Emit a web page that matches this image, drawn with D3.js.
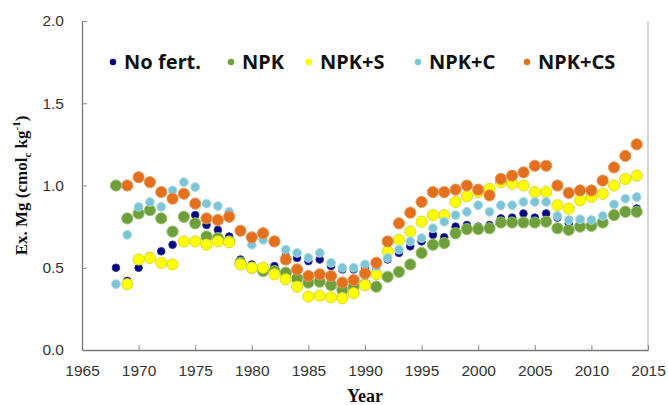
<!DOCTYPE html>
<html lang="en">
<head>
    <meta charset="UTF-8">
    <title>Ex. Mg by year</title>
    <script src="https://d3js.org/d3.v7.min.js"></script>
    <style>
        body { margin: 0; background: #fff; }
        svg { display: block; }
    </style>
</head>
<body>
    <div id="chart"></div>

    <script>
        // Data (1968-2014), null where no point is drawn
        const years = [1968, 1969, 1970, 1971, 1972, 1973, 1974, 1975, 1976, 1977,
            1978, 1979, 1980, 1981, 1982, 1983, 1984, 1985, 1986, 1987,
            1988, 1989, 1990, 1991, 1992, 1993, 1994, 1995, 1996, 1997,
            1998, 1999, 2000, 2001, 2002, 2003, 2004, 2005, 2006, 2007,
            2008, 2009, 2010, 2011, 2012, 2013, 2014];

        const noFert = [0.50, 0.42, 0.50, 0.57, 0.60, 0.64, 0.80, 0.82, 0.76, 0.73,
            0.69, 0.55, 0.52, 0.50, 0.51, 0.57, 0.56, 0.54, 0.55, 0.51,
            0.49, 0.49, 0.50, 0.50, 0.55, 0.59, 0.63, 0.66, 0.70, 0.685,
            0.75, 0.76, 0.75, 0.76, 0.80, 0.805, 0.83, 0.805, 0.83, 0.805,
            0.77, 0.78, 0.79, 0.78, 0.83, 0.85, 0.86];

        const npk = [1.00, 0.80, 0.83, 0.85, 0.80, 0.72, 0.81, 0.77, 0.69, 0.68,
            0.66, 0.53, 0.50, 0.48, 0.48, 0.47, 0.435, 0.41, 0.415, 0.395,
            0.365, 0.385, 0.40, 0.385, 0.445, 0.475, 0.52, 0.59, 0.64, 0.65,
            0.71, 0.735, 0.735, 0.74, 0.775, 0.775, 0.775, 0.775, 0.78, 0.74,
            0.73, 0.75, 0.755, 0.775, 0.82, 0.84, 0.84];

        const npkS = [null, 0.40, 0.55, 0.56, 0.53, 0.52, 0.66, 0.66, 0.64, 0.66,
            0.655, 0.52, 0.50, 0.50, 0.46, 0.43, 0.385, 0.325, 0.33, 0.32,
            0.315, 0.345, 0.395, 0.46, 0.60, 0.67, 0.72, 0.78, 0.82, 0.82,
            0.90, 0.935, 0.96, 0.98, 1.02, 1.01, 1.00, 0.96, 0.96, 0.88,
            0.86, 0.91, 0.93, 0.95, 1.00, 1.04, 1.06];

        const npkC = [0.40, 0.70, 0.87, 0.90, 0.87, 0.97, 1.02, 0.99, 0.89, 0.875,
            0.84, 0.72, 0.64, 0.67, 0.66, 0.61, 0.59, 0.56, 0.59, 0.53,
            0.50, 0.50, 0.52, 0.51, 0.56, 0.61, 0.66, 0.68, 0.74, 0.78,
            0.82, 0.84, 0.88, 0.84, 0.88, 0.88, 0.90, 0.90, 0.90, 0.815,
            0.79, 0.795, 0.79, 0.815, 0.885, 0.92, 0.93];

        const npkCS = [null, 1.00, 1.05, 1.02, 0.96, 0.92, 0.95, 0.89, 0.80, 0.79,
            0.81, 0.725, 0.685, 0.71, 0.66, 0.55, 0.49, 0.45, 0.46, 0.45,
            0.41, 0.425, 0.465, 0.53, 0.66, 0.77, 0.835, 0.90, 0.96, 0.96,
            0.975, 1.00, 0.975, 0.94, 1.04, 1.06, 1.08, 1.12, 1.12, 1.00,
            0.955, 0.97, 0.97, 1.03, 1.11, 1.18, 1.25];

        const xTicks = [1965, 1970, 1975, 1980, 1985, 1990, 1995, 2000, 2005, 2010, 2015];
        const yTicks = [0.0, 0.5, 1.0, 1.5, 2.0];

        const series = [
            { name: "No fert.", values: noFert, fill: "#000080", stroke: "#2a3a9a", r: 3.8 },
            { name: "NPK", values: npk, fill: "#6f9f3d", stroke: "#94c264", r: 5.6 },
            { name: "NPK+S", values: npkS, fill: "#ffff00", stroke: "#d9d92a", r: 5.6 },
            { name: "NPK+C", values: npkC, fill: "#7cc5d7", stroke: "#aadbe7", r: 4.4 },
            { name: "NPK+CS", values: npkCS, fill: "#e2701c", stroke: "#eb9657", r: 5.6 }
        ];

        const W = 668, H = 405;
        const margin = { top: 21, right: 20, bottom: 55, left: 82 };
        const width = W - margin.left - margin.right;
        const height = H - margin.top - margin.bottom;

        const svg = d3.select("#chart")
            .append("svg")
            .attr("width", W)
            .attr("height", H);

        const g = svg.append("g")
            .attr("transform", `translate(${margin.left},${margin.top})`);

        const x = d3.scaleLinear().domain([1965, 2015]).range([0, width]);
        const y = d3.scaleLinear().domain([0, 2]).range([height, 0]);

        // right border line
        g.append("line")
            .attr("x1", width).attr("x2", width)
            .attr("y1", 0).attr("y2", height)
            .attr("stroke", "#c8c8c8")
            .attr("stroke-width", 1.5);

        const xAxis = g.append("g")
            .attr("transform", `translate(0,${height})`)
            .call(d3.axisBottom(x).tickValues(xTicks).tickFormat(d3.format("d"))
                .tickSizeInner(-5).tickSizeOuter(0).tickPadding(15));

        const yAxis = g.append("g")
            .call(d3.axisLeft(y).tickValues(yTicks).tickFormat(d3.format(".1f"))
                .tickSizeInner(-5).tickSizeOuter(0).tickPadding(18));

        [xAxis, yAxis].forEach(ax => {
            ax.select(".domain").attr("stroke", "#777").attr("stroke-width", 1.3);
            ax.selectAll(".tick line").attr("stroke", "#888");
            ax.selectAll(".tick text")
                .attr("fill", "#333")
                .style("font-family", "'Liberation Sans', Arial, sans-serif")
                .style("font-size", "15.5px");
        });

        // points
        series.forEach(s => {
            const pts = years.map((yr, i) => ({ year: yr, value: s.values[i] }))
                .filter(d => d.value !== null);
            g.append("g")
                .selectAll("circle")
                .data(pts)
                .enter()
                .append("circle")
                .attr("cx", d => x(d.year))
                .attr("cy", d => y(d.value))
                .attr("r", s.r)
                .attr("fill", s.fill)
                .attr("stroke", s.stroke)
                .attr("stroke-width", 1);
        });

        // legend
        const legendX = [113, 231, 309, 418, 527];
        const legend = svg.append("g").attr("transform", "translate(0,62)");
        series.forEach((s, i) => {
            legend.append("circle")
                .attr("cx", legendX[i]).attr("cy", 0)
                .attr("r", 3.2)
                .attr("fill", s.fill);
            legend.append("text")
                .attr("x", legendX[i] + 11)
                .attr("y", 7)
                .attr("fill", "#111")
                .style("font-family", "'Noto Sans', 'Open Sans', sans-serif")
                .style("font-weight", "bold")
                .style("font-size", "20px")
                .text(s.name);
        });

        // axis titles
        svg.append("text")
            .attr("x", margin.left + x(1990))
            .attr("y", 402)
            .attr("text-anchor", "middle")
            .attr("fill", "#111")
            .style("font-family", "'Liberation Serif', 'Times New Roman', serif")
            .style("font-weight", "bold")
            .style("font-size", "18px")
            .text("Year");

        const yTitle = svg.append("text")
            .attr("transform", `translate(27,${margin.top + y(1)}) rotate(-90)`)
            .attr("text-anchor", "middle")
            .attr("fill", "#111")
            .style("font-family", "'Liberation Serif', 'Times New Roman', serif")
            .style("font-weight", "bold")
            .style("font-size", "17px");
        yTitle.append("tspan").text("Ex. Mg (cmol");
        yTitle.append("tspan").attr("dy", 4).style("font-size", "11px").text("c");
        yTitle.append("tspan").attr("dy", -4).text(" kg");
        yTitle.append("tspan").attr("dy", -7).style("font-size", "11px").text("-1");
        yTitle.append("tspan").attr("dy", 7).text(")");
    </script>
</body>
</html>
